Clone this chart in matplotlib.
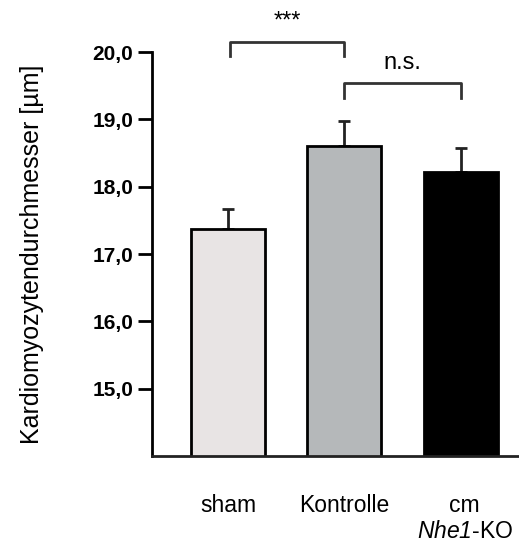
import matplotlib
matplotlib.use('Agg')
import matplotlib.pyplot as plt
import matplotlib.transforms as mtransforms
import numpy as np

# Daten
gruppen = ['sham', 'Kontrolle', 'cm\n$\\mathrm{Nhe1}$-KO']
mittel = [17.38, 18.61, 18.22]
fehler = [0.29, 0.37, 0.35]
farben = ['#E8E4E4', '#B5B8BA', '#000000']
yticks = [15.0, 16.0, 17.0, 18.0, 19.0, 20.0]

plt.rcParams['font.family'] = ['Liberation Sans', 'DejaVu Sans']
plt.rcParams['mathtext.fontset'] = 'custom'
plt.rcParams['mathtext.it'] = 'Liberation Sans:italic'
plt.rcParams['mathtext.rm'] = 'Liberation Sans:italic'

fig = plt.figure(figsize=(5.19, 5.43), dpi=100)
ax = fig.add_axes([0.293, 0.160, 0.707, 0.744])

x = np.arange(len(gruppen))
ax.bar(x, mittel, width=0.635, color=farben, edgecolor='black', linewidth=2, zorder=2)
ax.errorbar(x, mittel, yerr=[np.zeros(len(fehler)), fehler], fmt='none',
            ecolor='#222222', elinewidth=2, capsize=4, capthick=2, zorder=1)

ax.set_xlim(-0.652, 2.50)
ax.set_ylim(14.0, 20.0)
ax.set_yticks(yticks)
ax.set_yticklabels([f'{v:.1f}'.replace('.', ',') for v in yticks],
                   fontweight='bold', fontsize=15)
ax.set_xticks(x)
ax.set_xticklabels(gruppen, fontsize=16.5)
ax.tick_params(axis='x', length=0, pad=27)
ax.tick_params(axis='y', length=10, width=2, direction='out', pad=3.5)

# letztes Label etwas nach rechts
lab = ax.get_xticklabels()[2]
lab.set_transform(lab.get_transform() + mtransforms.ScaledTranslation(4 / 100, 0, fig.dpi_scale_trans))

for s in ['top', 'right']:
    ax.spines[s].set_visible(False)
ax.spines['left'].set_linewidth(2)
ax.spines['bottom'].set_linewidth(2)
ax.spines['bottom'].set_color('#222222')
ax.set_ylabel('Kardiomyozytendurchmesser [µm]', fontsize=18, labelpad=35)

# Signifikanz-Klammern
def klammer(x1, x2, y_oben, y_unten, text, ty, fs):
    ax.plot([x1, x1, x2, x2], [y_unten, y_oben, y_oben, y_unten], color='#333333',
            linewidth=2, clip_on=False)
    ax.text((x1 + x2) / 2, ty, text, ha='center', va='center', fontsize=fs)

klammer(0.02, 1.0, 20.15, 19.94, '***', 20.46, 17)
klammer(1.0, 2.0, 19.54, 19.32, 'n.s.', 19.84, 17)

fig.savefig('out.png', dpi=100)
